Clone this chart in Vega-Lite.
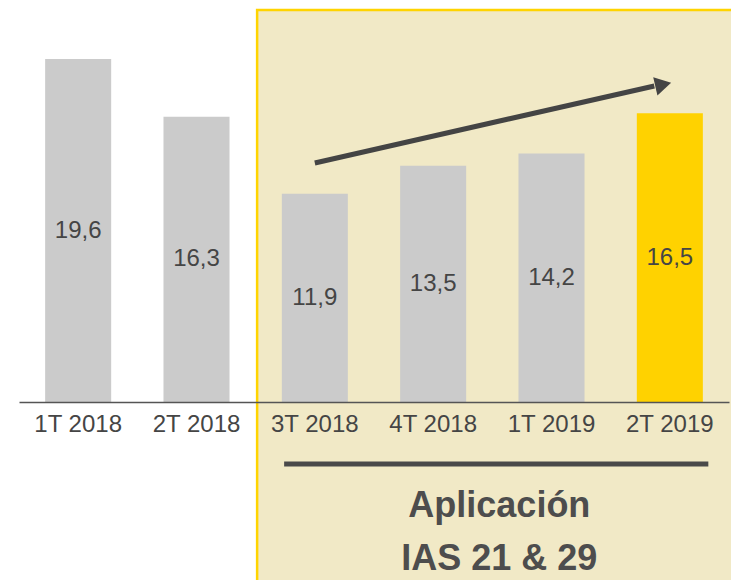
{
  "$schema": "https://vega.github.io/schema/vega-lite/v6.json",
  "width": 710,
  "height": 392,
  "autosize": "none",
  "padding": {"left": 19, "top": 10, "right": 2, "bottom": 178},
  "background": "white",
  "config": {"view": {"stroke": null}, "font": "Liberation Sans"},
  "data": {"values": [
    {"q": "1T 2018", "v": 19.6, "label": "19,6", "grupo": "base"},
    {"q": "2T 2018", "v": 16.3, "label": "16,3", "grupo": "base"},
    {"q": "3T 2018", "v": 11.9, "label": "11,9", "grupo": "base"},
    {"q": "4T 2018", "v": 13.5, "label": "13,5", "grupo": "base"},
    {"q": "1T 2019", "v": 14.2, "label": "14,2", "grupo": "base"},
    {"q": "2T 2019", "v": 16.5, "label": "16,5", "grupo": "actual"}
  ]},
  "resolve": {"scale": {"y": "independent"}},
  "layer": [
    {
      "data": {"values": [{}]},
      "mark": {"type": "rect", "fill": "#f1e9c6", "stroke": "#ffd400", "strokeWidth": 2.5},
      "encoding": {
        "x": {"datum": "3T 2018", "type": "nominal", "bandPosition": -0.374},
        "x2": {"datum": "2T 2019", "bandPosition": 1.6},
        "y": {"datum": 22.4, "type": "quantitative", "scale": {"domain": [0, 22.4]}, "axis": null},
        "y2": {"datum": -12}
      }
    },
    {
      "mark": {"type": "bar"},
      "encoding": {
        "x": {
          "field": "q", "type": "nominal",
          "scale": {"domain": ["1T 2018", "2T 2018", "3T 2018", "4T 2018", "1T 2019", "2T 2019"], "paddingInner": 0.442, "paddingOuter": 0.221},
          "axis": {"title": null, "domainColor": "#555555", "domainWidth": 1.5, "ticks": false, "labelFontSize": 24, "labelColor": "#454545", "labelPadding": 10, "labelFont": "Liberation Sans", "labelAngle": 0, "labelAlign": "center", "labelBaseline": "top", "labelBound": false, "labelOverlap": false, "zindex": 1}
        },
        "y": {"field": "v", "type": "quantitative", "scale": {"domain": [0, 22.4]}, "axis": null},
        "color": {"field": "grupo", "type": "nominal", "scale": {"domain": ["base", "actual"], "range": ["#cbcbcb", "#ffd200"]}, "legend": null}
      }
    },
    {
      "mark": {"type": "text", "fontSize": 24, "fill": "#454545", "baseline": "middle", "align": "center"},
      "encoding": {
        "x": {"field": "q", "type": "nominal"},
        "y": {"field": "v", "type": "quantitative", "scale": {"domain": [0, 44.8]}, "axis": null},
        "text": {"field": "label"}
      }
    },
    {
      "data": {"values": [{}]},
      "mark": {"type": "rule", "stroke": "#444444", "strokeWidth": 5},
      "encoding": {
        "x": {"datum": "3T 2018", "type": "nominal", "bandPosition": 0.5},
        "x2": {"datum": "2T 2019", "bandPosition": 0.265},
        "y": {"datum": 13.66, "type": "quantitative", "scale": {"domain": [0, 22.4]}, "axis": null},
        "y2": {"datum": 18.06}
      }
    },
    {
      "data": {"values": [{}]},
      "mark": {"type": "point", "shape": "triangle", "filled": true, "fill": "#444444", "size": 350, "angle": 77, "opacity": 1, "strokeWidth": 0},
      "encoding": {
        "x": {"datum": "2T 2019", "type": "nominal", "bandPosition": 0.36},
        "y": {"datum": 18.1, "type": "quantitative", "scale": {"domain": [0, 22.4]}, "axis": null}
      }
    },
    {
      "data": {"values": [{}]},
      "mark": {"type": "rule", "stroke": "#4a4a4a", "strokeWidth": 5},
      "encoding": {
        "x": {"datum": "3T 2018", "type": "nominal", "bandPosition": 0.035},
        "x2": {"datum": "2T 2019", "bandPosition": 1.083},
        "y": {"datum": -3.54, "type": "quantitative", "scale": {"domain": [0, 22.4]}, "axis": null}
      }
    },
    {
      "data": {"values": [{}]},
      "mark": {"type": "text", "text": ["Aplicación", "IAS 21 & 29"], "fontSize": 36, "fontWeight": "bold", "fill": "#4d4d4d", "baseline": "alphabetic", "align": "center", "lineHeight": 53},
      "encoding": {
        "x": {"datum": "1T 2019", "type": "nominal", "bandPosition": -0.29},
        "y": {"datum": -6.571, "type": "quantitative", "scale": {"domain": [0, 22.4]}, "axis": null}
      }
    }
  ]
}
